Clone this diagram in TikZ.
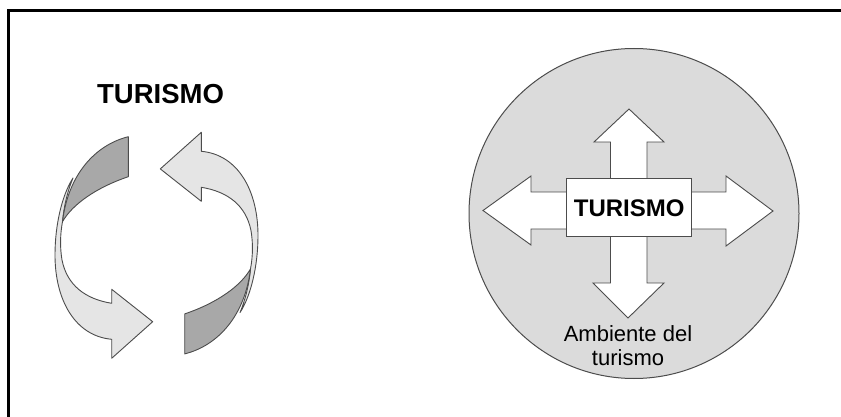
\documentclass[tikz,border=0pt]{standalone}
\usepackage{fontspec}
\setmainfont{Liberation Sans}
\definecolor{circfill}{gray}{0.86}
\definecolor{lightfill}{gray}{0.90}
\definecolor{darkfill}{gray}{0.66}
\definecolor{edge}{gray}{0.30}
\begin{document}
\begin{tikzpicture}[x=1pt,y=-1pt,
  frameline/.style={line width=2.5pt,black},
  ribbonlight/.style={fill=lightfill,draw=edge,line width=0.9pt,line join=round},
  ribbondark/.style={fill=darkfill,draw=edge,line width=0.9pt,line join=round},
  envcircle/.style={fill=circfill,draw=edge,line width=1pt},
  crossarrow/.style={fill=white,draw=edge,line width=0.9pt,line join=miter},
  tbox/.style={fill=white,draw=edge,line width=0.9pt,minimum width=125pt,minimum height=57.7pt,inner sep=0pt,
     font=\fontsize{24}{26}\selectfont\bfseries},
  titletext/.style={inner sep=0pt,font=\fontsize{27.5}{30}\selectfont\bfseries},
  envtext/.style={inner sep=0pt,align=center,font=\fontsize{22}{24}\selectfont}]
\useasboundingbox (0,0) rectangle (841,417);
% frame
\draw[frameline] (8.5,417) -- (8.5,10.5) -- (841,10.5);
% left title
\node[titletext,anchor=base] (title) at (160.5,103.3) {TURISMO};
% cycle arrows
\newcommand{\cyclearrow}{%
  \path[ribbonlight] (111.7,303.3) .. controls (85,299) and (67,285) .. (62,260)
     .. controls (60,248) and (60,235) .. (62.5,221.7)
     .. controls (64,205) and (68,190) .. (73,178)
     .. controls (62,195) and (55,225) .. (55,255)
     .. controls (55,300) and (75,336) .. (111.7,339.3)
     -- (111.7,358.3) -- (152.7,321.7) -- (111.7,289.3) -- cycle;
  \path[ribbondark] (128.3,136.7) .. controls (95,145) and (68,175) .. (62.5,221.7)
     .. controls (72,205) and (95,188) .. (128.3,176.7) -- cycle;
}
\cyclearrow
\begin{scope}[rotate around={180:(156.5,245.3)}]
\cyclearrow
\end{scope}
% environment circle
\draw[envcircle] (634,213.5) circle[radius=165pt];
% cross arrows
\path[crossarrow] (629,109) -- (664,142) -- (647,142) -- (647,192) -- (726,192) -- (726,176)
  -- (773,211) -- (726,246) -- (726,229) -- (647,229) -- (647,283) -- (664,283)
  -- (628,318) -- (593,283) -- (610.5,283) -- (610.5,229) -- (531,229) -- (531,245)
  -- (483,210.5) -- (531,176) -- (531,192) -- (610.5,192) -- (610.5,142) -- (594,142) -- cycle;
\node[tbox] (tur) at (629.2,207.8) {TURISMO};
\node[envtext,anchor=north] (amb) at (628,325) {Ambiente del\\turismo};
\end{tikzpicture}
\end{document}
